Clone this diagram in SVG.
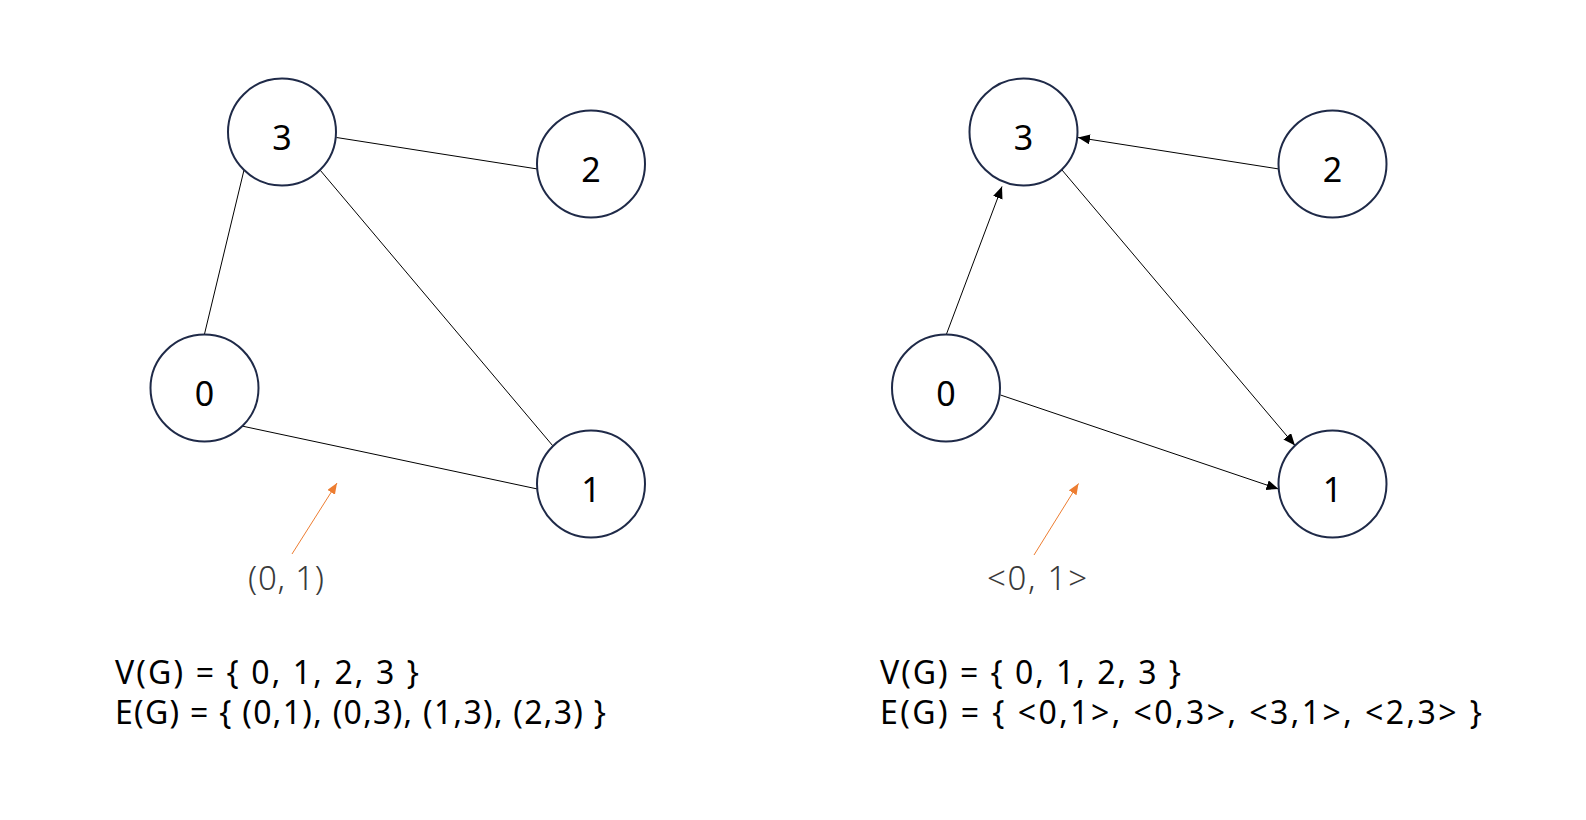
<svg xmlns="http://www.w3.org/2000/svg" width="1586" height="820" viewBox="0 0 1586 820">
<style>
.node{fill:#fff;stroke:#1f2a48;stroke-width:2}
.lbl{font-family:"Noto Sans","Open Sans",sans-serif;font-size:34px;fill:#000;text-anchor:middle}
.edge{stroke:#000;stroke-width:1;fill:none}
.hint{stroke:#ED7D31;stroke-width:1;fill:none}
.note{font-family:"Noto Sans","Open Sans",sans-serif;font-size:33px;font-weight:300;fill:#3a3a3a}
.set{font-family:"Noto Sans","Open Sans",sans-serif;font-size:32px;fill:#000}
</style>
<defs>
<marker id="ah" markerUnits="userSpaceOnUse" markerWidth="13" markerHeight="11" refX="12" refY="5" orient="auto">
<path d="M0,0 L12,5 L0,10 z" fill="#000"/>
</marker>
<marker id="oh" markerUnits="userSpaceOnUse" markerWidth="12" markerHeight="10" refX="11" refY="4.5" orient="auto">
<path d="M0,0 L11,4.5 L0,9 z" fill="#ED7D31"/>
</marker>
</defs>
<rect width="1586" height="820" fill="#fff"/>
<g id="connectors">
<line class="edge" x1="244" y1="170" x2="204.5" y2="334"/>
<line class="edge" x1="336.5" y1="137.5" x2="537.5" y2="169"/>
<line class="edge" x1="320.2" y1="170.2" x2="552.8" y2="445.8"/>
<line class="edge" x1="242.7" y1="426.2" x2="537.5" y2="489"/>
<line class="edge" x1="1279" y1="169" x2="1078" y2="137.5" marker-end="url(#ah)"/>
<line class="edge" x1="946.5" y1="334" x2="1002" y2="186.5" marker-end="url(#ah)"/>
<line class="edge" x1="1062" y1="170" x2="1295" y2="445.5" marker-end="url(#ah)"/>
<line class="edge" x1="1000.5" y1="395" x2="1278.5" y2="489" marker-end="url(#ah)"/>
<line class="hint" x1="292" y1="554" x2="337" y2="483" marker-end="url(#oh)"/>
<line class="hint" x1="1034" y1="555" x2="1078.5" y2="483.5" marker-end="url(#oh)"/>
</g>
<g id="u3"><ellipse class="node" cx="282" cy="132" rx="54" ry="53.5"/><text class="lbl" x="282" y="150">3</text></g>
<g id="u2"><ellipse class="node" cx="591" cy="164" rx="54" ry="53.5"/><text class="lbl" x="591" y="182">2</text></g>
<g id="u0"><ellipse class="node" cx="204.5" cy="388" rx="54" ry="53.5"/><text class="lbl" x="204.5" y="406">0</text></g>
<g id="u1"><ellipse class="node" cx="591" cy="484" rx="54" ry="53.5"/><text class="lbl" x="591" y="502">1</text></g>
<g id="d3"><ellipse class="node" cx="1023.5" cy="132" rx="54" ry="53.5"/><text class="lbl" x="1023.5" y="150">3</text></g>
<g id="d2"><ellipse class="node" cx="1332.5" cy="164" rx="54" ry="53.5"/><text class="lbl" x="1332.5" y="182">2</text></g>
<g id="d0"><ellipse class="node" cx="946" cy="388" rx="54" ry="53.5"/><text class="lbl" x="946" y="406">0</text></g>
<g id="d1"><ellipse class="node" cx="1332.5" cy="484" rx="54" ry="53.5"/><text class="lbl" x="1332.5" y="502">1</text></g>
<g id="labels">
<text class="note" x="248" y="590" textLength="76" lengthAdjust="spacing">(0, 1)</text>
<text class="note" x="987" y="590" textLength="100" lengthAdjust="spacing">&lt;0, 1&gt;</text>
<text class="set" x="115" y="684" textLength="304" lengthAdjust="spacing">V(G) = { 0, 1, 2, 3 }</text>
<text class="set" x="115" y="724" textLength="491" lengthAdjust="spacing">E(G) = { (0,1), (0,3), (1,3), (2,3) }</text>
<text class="set" x="880" y="684" textLength="301" lengthAdjust="spacing">V(G) = { 0, 1, 2, 3 }</text>
<text class="set" x="880" y="724" textLength="602" lengthAdjust="spacing">E(G) = { &lt;0,1&gt;, &lt;0,3&gt;, &lt;3,1&gt;, &lt;2,3&gt; }</text>
</g>
</svg>
